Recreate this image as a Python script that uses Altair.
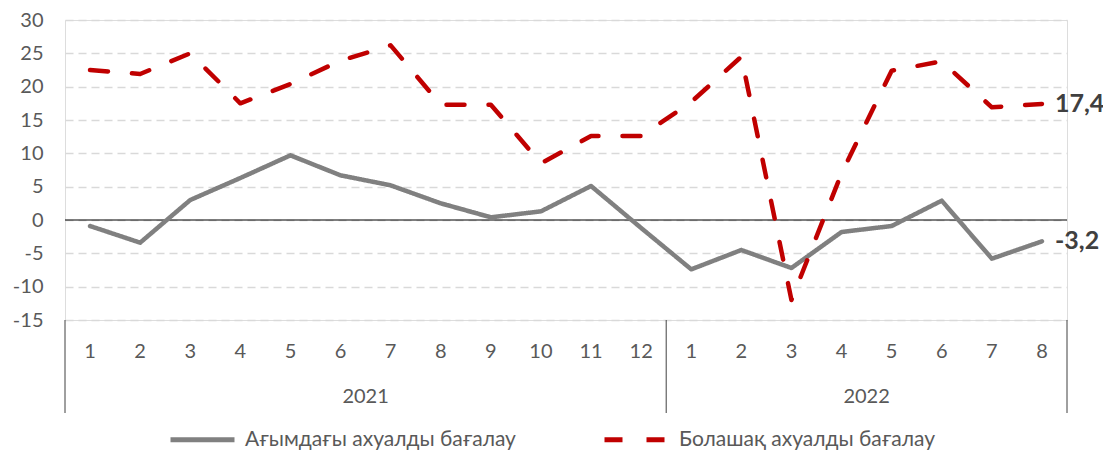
import altair as alt
import pandas as pd

months = ["1", "2", "3", "4", "5", "6", "7", "8", "9", "10", "11", "12",
          "1", "2", "3", "4", "5", "6", "7", "8"]
years = ["2021", "2022"]
year_lengths = [12, 8]
series_names = ["Ағымдағы ахуалды бағалау", "Болашақ ахуалды бағалау"]
current = [-0.9, -3.4, 3.0, 6.3, 9.7, 6.7, 5.2, 2.5, 0.4, 1.3, 5.1, -1.2,
           -7.4, -4.5, -7.2, -1.8, -0.9, 2.9, -5.8, -3.2]
future = [22.5, 21.9, 25.0, 17.5, 20.4, 23.9, 26.2, 17.3, 17.3, 8.5, 12.6, 12.6,
          17.7, 24.5, -12.0, 7.0, 22.4, 23.8, 16.9, 17.4]
end_labels = ["-3,2", "17,4"]
y_ticks = [-15, -10, -5, 0, 5, 10, 15, 20, 25, 30]

n = len(months)
rows = []
for name, vals in zip(series_names, [current, future]):
    for i, v in enumerate(vals):
        rows.append({"pos": i + 0.5, "value": v, "series": name})
df = pd.DataFrame(rows)

month_df = pd.DataFrame({"pos": [i + 0.5 for i in range(n)], "label": months})
bounds = [0]
for L in year_lengths:
    bounds.append(bounds[-1] + L)
year_df = pd.DataFrame({"pos": [(bounds[i] + bounds[i + 1]) / 2 for i in range(len(years))],
                        "label": years})
sep_df = pd.DataFrame({"pos": bounds})
end_df = pd.DataFrame({"pos": [n - 0.5, n - 0.5], "value": [current[-1], future[-1]],
                       "label": end_labels})
zero_df = pd.DataFrame({"value": [0]})

FONT = "Lato"
LABEL_COLOR = "#595959"

xscale = alt.Scale(domain=[0, n], nice=False, zero=False)
yscale = alt.Scale(domain=[-15, 30], nice=False, zero=False)


def yaxis():
    return alt.Axis(values=y_ticks, tickCount=10, title=None, domain=False, ticks=False,
                    labelPadding=22, labelFontSize=20, labelFont=FONT,
                    labelColor=LABEL_COLOR, labelOverlap=False, labelBound=False,
                    labelFlush=False, labelExpr="'' + datum.value",
                    grid=True, gridColor="#d9d9d9", gridDash=[8, 5], gridWidth=1.3)


lines = alt.Chart(df).mark_line(strokeWidth=4.5, strokeCap="round", strokeJoin="round").encode(
    x=alt.X("pos:Q", scale=xscale, axis=None),
    y=alt.Y("value:Q", scale=yscale, axis=yaxis()),
    color=alt.Color("series:N",
                    scale=alt.Scale(domain=series_names, range=["#808080", "#c00000"]),
                    legend=alt.Legend(title=None, orient="none", direction="horizontal",
                                      legendX=103, legendY=385, symbolType="stroke",
                                      symbolSize=4096, symbolStrokeWidth=5,
                                      labelFont=FONT, labelFontSize=21, labelLimit=0,
                                      labelColor=LABEL_COLOR, labelOffset=8,
                                      columnPadding=78, padding=0)),
    strokeDash=alt.StrokeDash("series:N",
                              scale=alt.Scale(domain=series_names, range=[[1, 0], [18, 24]]),
                              legend=None),
)

zero_rule = alt.Chart(zero_df).mark_rule(color="#000000", strokeWidth=1.2).encode(
    y=alt.Y("value:Q", scale=yscale, axis=yaxis())
)

month_text = alt.Chart(month_df).mark_text(font=FONT, fontSize=20, color=LABEL_COLOR,
                                           baseline="middle").encode(
    x=alt.X("pos:Q", scale=xscale, axis=None), y=alt.value(332), text="label:N"
)

year_text = alt.Chart(year_df).mark_text(font=FONT, fontSize=20, color=LABEL_COLOR,
                                         baseline="middle").encode(
    x=alt.X("pos:Q", scale=xscale, axis=None), y=alt.value(377), text="label:N"
)

seps = alt.Chart(sep_df).mark_rule(color="#404040", strokeWidth=1).encode(
    x=alt.X("pos:Q", scale=xscale, axis=None), y=alt.value(300), y2=alt.value(393)
)

end_text = alt.Chart(end_df).mark_text(font=FONT, fontSize=25, fontWeight="bold",
                                       color="#404040", align="left", baseline="middle",
                                       dx=13).encode(
    x=alt.X("pos:Q", scale=xscale, axis=None), y=alt.Y("value:Q", scale=yscale, axis=yaxis()),
    text="label:N"
)

chart = alt.layer(zero_rule, lines, month_text, year_text, seps, end_text).properties(
    width=1002, height=300,
    autosize=alt.AutoSizeParams(type="none"),
    padding={"left": 57, "top": 12, "right": 36, "bottom": 131},
).configure_view(stroke=None).configure(background="#ffffff")

chart.save("out.html", embed_options={"renderer": "svg", "actions": False})
